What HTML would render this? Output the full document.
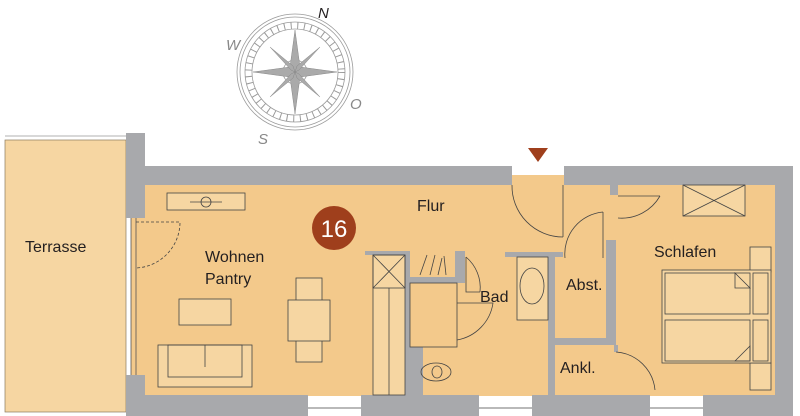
<!DOCTYPE html>
<html><head><style>body{margin:0;background:#fff}svg{display:block}text{font-family:"Liberation Sans",sans-serif;fill:#231f20}</style></head><body>
<svg width="800" height="416" viewBox="0 0 800 416" xmlns="http://www.w3.org/2000/svg">
<!-- compass -->
<g fill="none" stroke="#9a9a9a" stroke-width="0.8">
<circle cx="295" cy="72" r="58"/><circle cx="295" cy="72" r="55"/><circle cx="295" cy="72" r="50"/><circle cx="295" cy="72" r="43"/><circle cx="295" cy="72" r="12"/><circle cx="295" cy="72" r="8"/>
<g stroke-dasharray="1 5.7"><circle cx="295" cy="72" r="46.5" stroke-width="7"/></g>
</g>
<g fill="#aaa" stroke="#888" stroke-width="0.5">
<polygon points="295,30 300,67 295,72 290,67"/><polygon points="295,114 300,77 295,72 290,77"/><polygon points="253,72 290,67 295,72 290,77"/><polygon points="337,72 300,67 295,72 300,77"/>
<polygon points="320,47 299,70 295,72 297,66"/><polygon points="270,97 291,74 295,72 293,78"/><polygon points="270,47 293,66 295,72 291,70"/><polygon points="320,97 297,78 295,72 299,74"/>
</g>
<g font-style="italic" font-size="15" fill="#888"><text x="318" y="18" style="fill:#231f20">N</text><text x="226" y="50" style="fill:#888">W</text><text x="350" y="109" style="fill:#888">O</text><text x="258" y="144" style="fill:#888">S</text></g>
<!-- terrace -->
<rect x="5" y="140" width="121" height="272" fill="#f6d6a2" stroke="#8a7a60" stroke-width="0.7"/>
<line x1="5" y1="136" x2="126" y2="136" stroke="#999" stroke-width="0.7"/>
<!-- floor -->
<rect x="145" y="185" width="632" height="211" fill="#f3c98b"/>
<rect x="512" y="175" width="52" height="12" fill="#f3c98b"/>
<rect x="131" y="218" width="14" height="157" fill="#f3c98b"/>
<line x1="131" y1="218" x2="131" y2="375" stroke="#555" stroke-width="0.8"/><line x1="136" y1="218" x2="136" y2="375" stroke="#555" stroke-width="0.8"/>
<!-- walls -->
<g fill="#a8a9ac">
<rect x="126" y="133" width="19" height="85"/><rect x="126" y="375" width="19" height="41"/>
<rect x="145" y="166" width="367" height="19"/><rect x="564" y="166" width="229" height="19"/>
<rect x="775" y="166" width="18" height="250"/>
<rect x="145" y="395" width="163" height="21"/><rect x="361" y="395" width="118" height="21"/><rect x="532" y="395" width="118" height="21"/><rect x="703" y="395" width="90" height="21"/>
<rect x="365" y="251" width="45" height="4"/><rect x="405" y="251" width="5" height="144"/><rect x="410" y="347" width="13" height="48"/>
<rect x="410" y="277" width="50" height="6"/><rect x="455" y="251" width="10" height="32"/>
<rect x="505" y="252" width="58" height="5"/><rect x="548" y="252" width="7" height="143"/>
<rect x="555" y="338" width="61" height="7"/><rect x="606" y="240" width="10" height="105"/><rect x="610" y="185" width="8" height="10"/><rect x="614" y="345" width="4" height="7"/>
</g>
<g fill="none" stroke="#444" stroke-width="0.8">
<line x1="308" y1="408" x2="361" y2="408"/><line x1="479" y1="408" x2="532" y2="408"/><line x1="650" y1="408" x2="703" y2="408"/>
<rect x="373" y="255" width="32" height="140" fill="#f6d6a2"/><rect x="373" y="255" width="32" height="33"/><line x1="373" y1="255" x2="405" y2="288"/><line x1="405" y1="255" x2="373" y2="288"/><line x1="389" y1="288" x2="389" y2="395"/>
<line x1="420" y1="275" x2="427" y2="255"/><line x1="430" y1="275" x2="435" y2="255"/><line x1="438" y1="275" x2="442" y2="258"/><line x1="446" y1="275" x2="444" y2="256"/>
<rect x="410" y="283" width="47" height="64"/>
<path d="M466 257 V292 H480"/><path d="M466 257 A40 40 0 0 1 480 292" />
<path d="M457 303 H493 A44 44 0 0 1 457 340"/>
<ellipse cx="436" cy="372" rx="15" ry="9"/><ellipse cx="437" cy="372" rx="5" ry="6"/>
<rect x="517" y="257" width="31" height="63" fill="#f6d6a2"/><ellipse cx="532" cy="286" rx="12" ry="18"/>
<path d="M563 185 V237 M512 185 A51 51 0 0 0 563 237"/>
<path d="M603 212 V258 M565 258 A42 42 0 0 1 603 212"/>
<path d="M618 218 A44 44 0 0 0 660 196"/><line x1="618" y1="196" x2="660" y2="196"/>
<path d="M616 352 A42 42 0 0 1 655 390"/>
<rect x="683" y="185" width="62" height="31" fill="#f6d6a2"/><line x1="683" y1="185" x2="745" y2="216"/><line x1="745" y1="185" x2="683" y2="216"/>
<rect x="750" y="247" width="21" height="25" fill="#f6d6a2"/><rect x="750" y="363" width="21" height="27" fill="#f6d6a2"/>
<rect x="662" y="270" width="109" height="93" fill="#f6d6a2"/><rect x="665" y="273" width="85" height="41"/><rect x="665" y="320" width="85" height="41"/><rect x="753" y="273" width="15" height="41"/><rect x="753" y="320" width="15" height="41"/>
<path d="M735 273 L750 288 H735Z M735 361 L750 346 V361Z"/>
<rect x="167" y="193" width="78" height="17" fill="#f6d6a2"/><line x1="190" y1="202" x2="222" y2="202"/><circle cx="206" cy="202" r="5"/>
<path d="M136 222 H180 A46 46 0 0 1 136 268" stroke-dasharray="3 2"/>
<rect x="179" y="299" width="52" height="26" fill="#f6d6a2"/>
<rect x="158" y="345" width="94" height="42" fill="#f6d6a2"/><rect x="168" y="345" width="74" height="32"/><line x1="205" y1="345" x2="205" y2="367"/>
<rect x="296" y="278" width="26" height="84" fill="#f6d6a2"/><rect x="288" y="300" width="42" height="41" fill="#f6d6a2"/>
</g>
<polygon points="528,148 548,148 538,162" fill="#9f3f1c"/>
<circle cx="334" cy="228" r="22" fill="#9f3f1c"/>
<text x="334" y="237" font-size="24" text-anchor="middle" style="fill:#fff">16</text>
<g font-size="16">
<text x="25" y="252">Terrasse</text><text x="205" y="262">Wohnen</text><text x="205" y="284">Pantry</text>
<text x="417" y="211">Flur</text><text x="480" y="302">Bad</text><text x="566" y="290">Abst.</text><text x="654" y="257">Schlafen</text><text x="560" y="373">Ankl.</text>
</g>
</svg>
</body></html>
